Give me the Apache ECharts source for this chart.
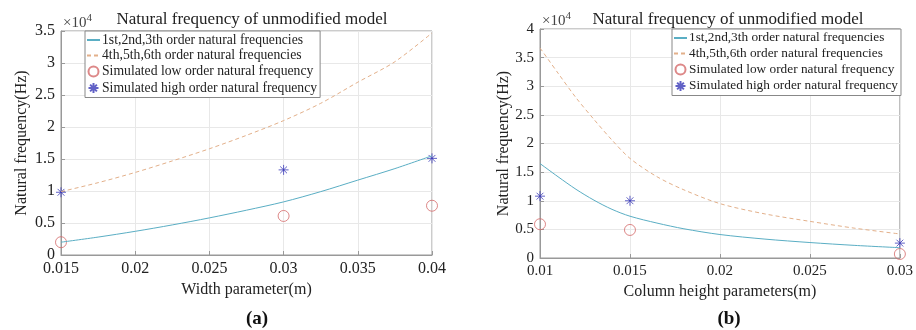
<!DOCTYPE html>
<html>
<head>
<meta charset="utf-8">
<script src="https://cdn.jsdelivr.net/npm/echarts@6/dist/echarts.min.js"></script>
<style>
  html, body { margin: 0; padding: 0; background: #fff; }
  #chart { width: 916px; height: 330px; }
</style>
</head>
<body>
<div id="chart"></div>
<script>
// (a) width parameter sweep, values in 1e4 Hz
const widthX = [0.015, 0.0175, 0.02, 0.0225, 0.025, 0.0275, 0.03, 0.0325, 0.035, 0.0375, 0.04]
const widthLow = [0.2, 0.28, 0.37, 0.47, 0.58, 0.7, 0.83, 0.99, 1.17, 1.35, 1.55]
const widthHigh = [0.99, 1.13, 1.29, 1.47, 1.66, 1.87, 2.1, 2.37, 2.7, 3.02, 3.47]
const widthSimX = [0.015, 0.03, 0.04]
const widthSimLow = [0.2, 0.61, 0.77]
const widthSimHigh = [0.98, 1.33, 1.51]

// (b) column height sweep, values in 1e4 Hz
const heightX = [0.01, 0.011, 0.012, 0.013, 0.014, 0.015, 0.0165, 0.018, 0.02, 0.0225, 0.025, 0.0275, 0.03]
const heightLow = [1.65, 1.42, 1.2, 1.01, 0.85, 0.73, 0.61, 0.51, 0.41, 0.33, 0.27, 0.22, 0.18]
const heightHigh = [3.67, 3.23, 2.8, 2.42, 2.06, 1.74, 1.42, 1.19, 0.95, 0.77, 0.64, 0.52, 0.42]
const heightSimX = [0.01, 0.015, 0.03]
const heightSimLow = [0.59, 0.49, 0.07]
const heightSimHigh = [1.08, 1.0, 0.26]

const names = [
  "1st,2nd,3th order natural frequencies",
  "4th,5th,6th order natural frequencies",
  "Simulated low order natural frequency",
  "Simulated high order natural frequency",
]

const FONT = "Liberation Serif"
const TEXT = "#222"
const AXIS = "#999"
const STAR = "path://M5,0L5,10M0,5L10,5M1.6,1.6L8.4,8.4M1.6,8.4L8.4,1.6"

const zip = (xs, ys) => xs.map((x, i) => [x, ys[i]])
const fmt = (v) => String(parseFloat(v.toFixed(4)))

function makeAxes(i, o) {
  const x = {
    gridIndex: i,
    type: "value",
    min: o.xmin,
    max: o.xmax,
    interval: 0.005,
    name: o.xname,
    nameLocation: "middle",
    nameGap: 26,
    nameTextStyle: { fontFamily: FONT, fontSize: 16, color: TEXT },
    axisLine: { lineStyle: { color: AXIS } },
    axisTick: { inside: true, length: 4, lineStyle: { color: AXIS } },
    axisLabel: { fontFamily: FONT, fontSize: o.fs, color: TEXT, margin: 6, formatter: fmt },
    splitLine: { lineStyle: { color: "#e8e8e8" } },
  }
  const y = {
    gridIndex: i,
    type: "value",
    min: 0,
    max: o.ymax,
    interval: 0.5,
    name: "Natural frequency(Hz)",
    nameLocation: "middle",
    nameGap: o.ygap,
    nameTextStyle: { fontFamily: FONT, fontSize: 16, color: TEXT },
    axisLine: { show: true, lineStyle: { color: AXIS } },
    axisTick: { show: true, inside: true, length: 4, lineStyle: { color: AXIS } },
    axisLabel: { fontFamily: FONT, fontSize: o.fs, color: TEXT, margin: 6, formatter: fmt },
    splitLine: { lineStyle: { color: "#e8e8e8" } },
  }
  return [x, y]
}

function makeSeries(i, xs, low, high, sx, slow, shigh) {
  return [
    {
      name: names[0], type: "line", xAxisIndex: i, yAxisIndex: i,
      data: zip(xs, low), symbol: "circle", showSymbol: false, smooth: 0.3,
      lineStyle: { color: "#5aaec4", width: 1 }, itemStyle: { color: "transparent" },
    },
    {
      name: names[1], type: "line", xAxisIndex: i, yAxisIndex: i,
      data: zip(xs, high), symbol: "circle", showSymbol: false, smooth: 0.3,
      lineStyle: { color: "#e3b08a", width: 1, type: [4, 3] }, itemStyle: { color: "transparent" },
    },
    {
      name: names[2], type: "scatter", xAxisIndex: i, yAxisIndex: i,
      data: zip(sx, slow), symbol: "circle", symbolSize: 11,
      itemStyle: { color: "none", borderColor: "#d46a6a", borderWidth: 1 },
    },
    {
      name: names[3], type: "scatter", xAxisIndex: i, yAxisIndex: i,
      data: zip(sx, shigh), symbol: STAR, symbolSize: 10,
      itemStyle: { color: "none", borderColor: "#3a3ab8", borderWidth: 1 },
    },
  ]
}

function makeLegend(left, top, fs) {
  return {
    data: names,
    orient: "vertical",
    left: left,
    top: top,
    itemWidth: 13,
    itemHeight: 10,
    itemGap: 1.5,
    padding: [2, 3, 2, 1],
    backgroundColor: "#fff",
    borderColor: "#888",
    borderWidth: 1,
    textStyle: { fontFamily: FONT, fontSize: fs, lineHeight: 14, color: TEXT, padding: [0, 0, 0, -3] },
  }
}

const chart = echarts.init(document.getElementById("chart"))
const [xa, ya] = makeAxes(0, { xmin: 0.015, xmax: 0.04, ymax: 3.5, xname: "Width parameter(m)", fs: 16, ygap: 31 })
const [xb, yb] = makeAxes(1, { xmin: 0.01, xmax: 0.03, ymax: 4, xname: "Column height parameters(m)", fs: 15, ygap: 21 })

const titleStyle = { fontFamily: FONT, fontSize: 17, fontWeight: "normal", color: TEXT }
const sup = {
  a: { fontFamily: FONT, fontSize: 15, fontWeight: "normal", color: "#444" },
  b: { fontFamily: FONT, fontSize: 11, fontWeight: "normal", color: "#444", verticalAlign: "top", padding: [0, 0, 9, 0] },
}

const option = {
  animation: false,
  backgroundColor: "#fff",
  title: [
    { text: "Natural frequency of unmodified model", left: 247, top: 6, textAlign: "center", textStyle: titleStyle },
    { text: "Natural frequency of unmodified model", left: 723, top: 6, textAlign: "center", textStyle: titleStyle },
    { text: "{a|×10}{b|4}", left: 58, top: 8, textStyle: { rich: sup } },
    { text: "{a|×10}{b|4}", left: 537, top: 6, textStyle: { rich: sup } },
    { text: "(a)", left: 252, top: 305, textAlign: "center", textStyle: { fontFamily: FONT, fontSize: 19, fontWeight: "bold", color: "#111" } },
    { text: "(b)", left: 724, top: 305, textAlign: "center", textStyle: { fontFamily: FONT, fontSize: 19, fontWeight: "bold", color: "#111" } },
  ],
  legend: [makeLegend(85, 31, 13.7), makeLegend(672, 29, 13.3)],
  grid: [
    { left: 61, right: 484, top: 31, bottom: 75, show: true, borderColor: AXIS, borderWidth: 1 },
    { left: 540, right: 10, top: 29, bottom: 72, show: true, borderColor: AXIS, borderWidth: 1 },
  ],
  xAxis: [xa, xb],
  yAxis: [ya, yb],
  series: [
    ...makeSeries(0, widthX, widthLow, widthHigh, widthSimX, widthSimLow, widthSimHigh),
    ...makeSeries(1, heightX, heightLow, heightHigh, heightSimX, heightSimLow, heightSimHigh),
  ],
}

option && chart.setOption(option)
</script>
</body>
</html>
